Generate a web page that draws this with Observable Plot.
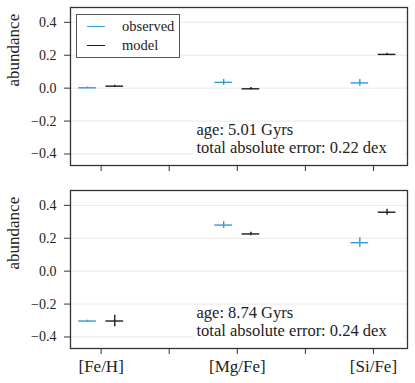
<!DOCTYPE html>
<html><head><meta charset="utf-8">
<script src="https://cdn.jsdelivr.net/npm/d3@7"></script>
<script src="https://cdn.jsdelivr.net/npm/@observablehq/plot@0.6"></script>
<style>
body{margin:0;background:#fff;}
#wrap{position:relative;width:415px;height:383px;}
#wrap svg{display:block;}
.legend{position:absolute;left:76px;top:14px;width:102px;height:42px;border:1px solid #555;background:#fff;font-family:"Liberation Serif","Times New Roman",Times,"DejaVu Serif",serif;font-size:14.5px;color:#222;}
.legend .row{position:absolute;left:0;height:16px;line-height:16px;width:100%;}
.legend .sw{position:absolute;left:10px;top:7.5px;width:18px;height:1.4px;}
.legend .lab{position:absolute;left:45px;top:0;}
</style></head><body><div id="wrap"></div>
<script>
const elements = ["[Fe/H]", "[Mg/Fe]", "[Si/Fe]"];
const xTicks = [0, 1, 2, 3, 4];
const yTicks = [-0.4, -0.2, 0, 0.2, 0.4];
const seriesNames = ["observed", "model"];
const seriesColors = ["#3498db", "#1c1c1c"];

const ages = ["5.01", "8.74"];
const totalErrors = ["0.22", "0.24"];

const observed1 = [0.002, 0.035, 0.032];
const observedErr1 = [0.005, 0.018, 0.020];
const model1 = [0.012, -0.004, 0.205];
const modelErr1 = [0.006, 0.008, 0.007];

const observed2 = [-0.303, 0.280, 0.173];
const observedErr2 = [0.005, 0.021, 0.030];
const model2 = [-0.303, 0.226, 0.358];
const modelErr2 = [0.035, 0.011, 0.018];

const FONT = "'Liberation Serif', 'Times New Roman', Times, 'DejaVu Serif', serif";
const OFFSET = 0.2, HALF = 0.13;

function rowsFor(obs, obsErr, mod, modErr) {
  const rows = [];
  elements.forEach((el, i) => {
    rows.push({x: 2 * i - OFFSET, v: obs[i], e: obsErr[i], s: 0});
    rows.push({x: 2 * i + OFFSET, v: mod[i], e: modErr[i], s: 1});
  });
  return rows;
}

function panel(obs, obsErr, mod, modErr, age, terr, opts) {
  const rows = rowsFor(obs, obsErr, mod, modErr);
  const col = d => seriesColors[d.s];
  return Plot.plot({
    width: 415,
    height: opts.height,
    marginTop: opts.marginTop,
    marginBottom: opts.marginBottom,
    marginLeft: 70,
    marginRight: 8,
    style: {fontFamily: FONT, background: "white", color: "#222", overflow: "visible"},
    x: {domain: [-0.45, 4.5]},
    y: {domain: [-0.47, 0.49]},
    marks: [
      Plot.gridY(yTicks, {stroke: "#e8e8e8", strokeOpacity: 1, strokeWidth: 1}),
      Plot.ruleY(rows, {y: "v", x1: d => d.x - HALF, x2: d => d.x + HALF, stroke: col, strokeWidth: 1.4}),
      Plot.ruleX(rows, {x: "x", y1: d => d.v - d.e, y2: d => d.v + d.e, stroke: col, strokeWidth: 1.4}),
      Plot.frame({fill: "white", stroke: null, insetLeft: 123, insetRight: 4, insetTop: 115, insetBottom: 8}),
      Plot.text([`age: ${age} Gyrs\ntotal absolute error: ${terr} dex`], {
        text: d => d, frameAnchor: "bottom-left", textAnchor: "start", lineAnchor: "bottom",
        dx: 126, dy: -12.5, lineHeight: 1.115, fontSize: 16.5, fill: "#222"
      }),
      Plot.text(["abundance"], {text: d => d, frameAnchor: "left", rotate: -90, dx: -57, fontSize: 17, fill: "#222"}),
      Plot.frame({stroke: "#333", strokeWidth: 1.3}),
      Plot.axisY({ticks: yTicks, tickSize: 6, tickPadding: 8, tickFormat: d3.format(".1f"), fontSize: 14, label: null, stroke: "#333"}),
      Plot.axisX({ticks: xTicks, tickSize: 6, tickPadding: 5, fontSize: 17, label: null, stroke: "#333",
        tickFormat: opts.labels ? (d => d % 2 === 0 ? elements[d / 2] : "") : (() => "")})
    ]
  });
}

const wrap = document.getElementById("wrap");
wrap.appendChild(panel(observed1, observedErr1, model1, modelErr1, ages[0], totalErrors[0],
  {height: 175, marginTop: 7, marginBottom: 10, labels: false}));
wrap.appendChild(panel(observed2, observedErr2, model2, modelErr2, ages[1], totalErrors[1],
  {height: 208, marginTop: 15, marginBottom: 35, labels: true}));

const legend = document.createElement("div");
legend.className = "legend";
seriesNames.forEach((name, i) => {
  const row = document.createElement("div");
  row.className = "row";
  row.style.top = (3 + 19 * i) + "px";
  const sw = document.createElement("div");
  sw.className = "sw";
  sw.style.background = seriesColors[i];
  const lab = document.createElement("span");
  lab.className = "lab";
  lab.textContent = name;
  row.appendChild(sw);
  row.appendChild(lab);
  legend.appendChild(row);
});
wrap.appendChild(legend);
</script>
</body></html>
